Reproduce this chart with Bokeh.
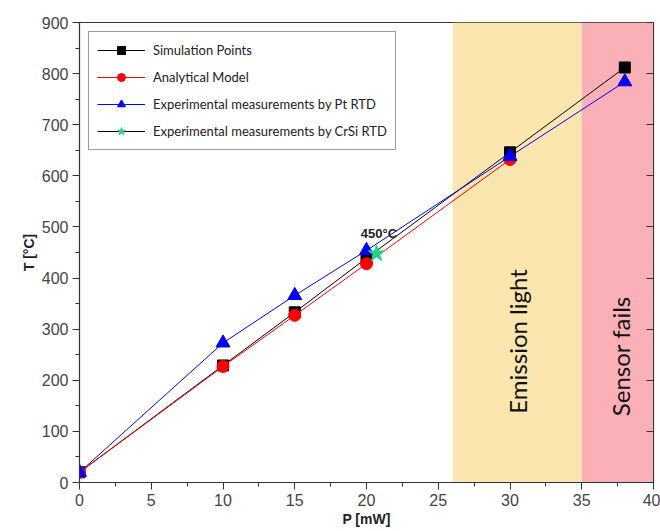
import math
from bokeh.plotting import figure
from bokeh.models import Range1d, LinearAxis, BoxAnnotation, Legend, LegendItem, FixedTicker
from bokeh.core.properties import value
from bokeh.embed import file_html
from bokeh.resources import INLINE

# ---- data ----
p_sim = [0, 10, 15, 20, 30, 38]
t_sim = [20, 229, 333, 439, 646, 812]
p_ana = [0, 10, 15, 20, 30]
t_ana = [20, 227, 327, 428, 632]
p_pt = [0, 10, 15, 20, 30, 38]
t_pt = [20, 273, 366, 454, 638, 784]
p_crsi = [20.7]
t_crsi = [448]
labels = ["Simulation Points", "Analytical Model",
          "Experimental measurements by Pt RTD",
          "Experimental measurements by CrSi RTD"]
x_ticks = [0, 5, 10, 15, 20, 25, 30, 35, 40]
y_ticks = [0, 100, 200, 300, 400, 500, 600, 700, 800, 900]
zone_emission = (26, 35)
zone_fail = (35, 40)

p = figure(width=660, height=531, output_backend="svg", toolbar_location=None,
           x_range=Range1d(0, 40), y_range=Range1d(0, 900),
           min_border_left=79, min_border_right=7, min_border_top=22, min_border_bottom=49)
p.grid.visible = False
p.outline_line_color = "#333333"
p.outline_line_width = 1.2
p.background_fill_color = "white"
p.border_fill_color = "white"

p.add_layout(BoxAnnotation(left=zone_emission[0], right=zone_emission[1],
                           fill_color="#FBE6B0", fill_alpha=1.0, line_alpha=0, level="underlay"))
p.add_layout(BoxAnnotation(left=zone_fail[0], right=zone_fail[1],
                           fill_color="#FAB0B6", fill_alpha=1.0, line_alpha=0, level="underlay"))

# axes styling
for ax, ticks in ((p.xaxis[0], x_ticks), (p.yaxis[0], y_ticks)):
    ax.ticker = FixedTicker(ticks=ticks,
                            minor_ticks=[(a + b) / 2 for a, b in zip(ticks[:-1], ticks[1:])])
    ax.major_label_text_font = "Liberation Sans"
    ax.major_label_text_font_size = "16px"
    ax.major_label_text_color = "#444444"
    ax.axis_line_color = "#333333"
    ax.major_tick_line_color = "#333333"
    ax.minor_tick_line_color = "#333333"
    ax.major_tick_out = 7
    ax.major_tick_in = 0
    ax.minor_tick_out = 4
    ax.minor_tick_in = 0
    ax.axis_label_text_font = "Liberation Sans"
    ax.axis_label_text_font_style = "bold"
    ax.axis_label_text_font_size = "14px"
    ax.axis_label_text_color = "#222222"
    ax.major_label_standoff = 4
    ax.axis_label_standoff = 2

p.xaxis.axis_label = "P [mW]"
p.yaxis.axis_label = "T [°C]"

right = LinearAxis(ticker=FixedTicker(ticks=y_ticks), major_label_text_font_size="0px",
                   major_tick_in=7, major_tick_out=0, minor_tick_in=0, minor_tick_out=0,
                   axis_line_color="#333333", major_tick_line_color="#333333")
p.add_layout(right, "right")

# series
r1l = p.line(p_sim, t_sim, line_color="black", line_width=1)
r1m = p.scatter(p_sim, t_sim, marker="square", size=11, fill_color="black", line_color="black")
r2l = p.line(p_ana, t_ana, line_color="red", line_width=1)
r2m = p.scatter(p_ana, t_ana, marker="circle", size=12, fill_color="red", line_color="red")
r3l = p.line(p_pt, t_pt, line_color="blue", line_width=1)
r3m = p.scatter(p_pt, t_pt, marker="triangle", size=14, fill_color="blue", line_color="blue")
r4l = p.line(p_crsi, t_crsi, line_color="black", line_width=1)
r4m = p.scatter(p_crsi, t_crsi, marker="star", size=17, fill_color="#22D38A", line_color="#22D38A")

# annotations
p.text(x=[19.6], y=[487], text=["450°C"], text_font=value("Liberation Sans"),
       text_font_style="bold", text_font_size="13px", text_color="#222222",
       text_align="left", text_baseline="middle")
p.text(x=[30.55], y=[276], text=["Emission light"], angle=math.pi / 2,
       text_font=value("Lato"), text_font_size="24px", text_color="#111111",
       text_align="center", text_baseline="middle")
p.text(x=[37.7], y=[247], text=["Sensor fails"], angle=math.pi / 2,
       text_font=value("Lato"), text_font_size="24px", text_color="#111111",
       text_align="center", text_baseline="middle")

legend = Legend(items=[
    LegendItem(label=labels[0], renderers=[r1l, r1m]),
    LegendItem(label=labels[1], renderers=[r2l, r2m]),
    LegendItem(label=labels[2], renderers=[r3l, r3m]),
    LegendItem(label=labels[3], renderers=[r4l, r4m]),
], location="top_left")
legend.margin = 9
legend.padding = 8
legend.spacing = 7
legend.glyph_width = 48
legend.glyph_height = 20
legend.label_height = 20
legend.label_standoff = 8
legend.label_text_font = "Lato"
legend.label_text_font_size = "13px"
legend.label_text_color = "#222222"
legend.border_line_color = "#333333"
legend.border_line_width = 1.2
legend.background_fill_alpha = 1.0
p.add_layout(legend, "center")

open("out.html", "w").write(file_html(p, INLINE))
